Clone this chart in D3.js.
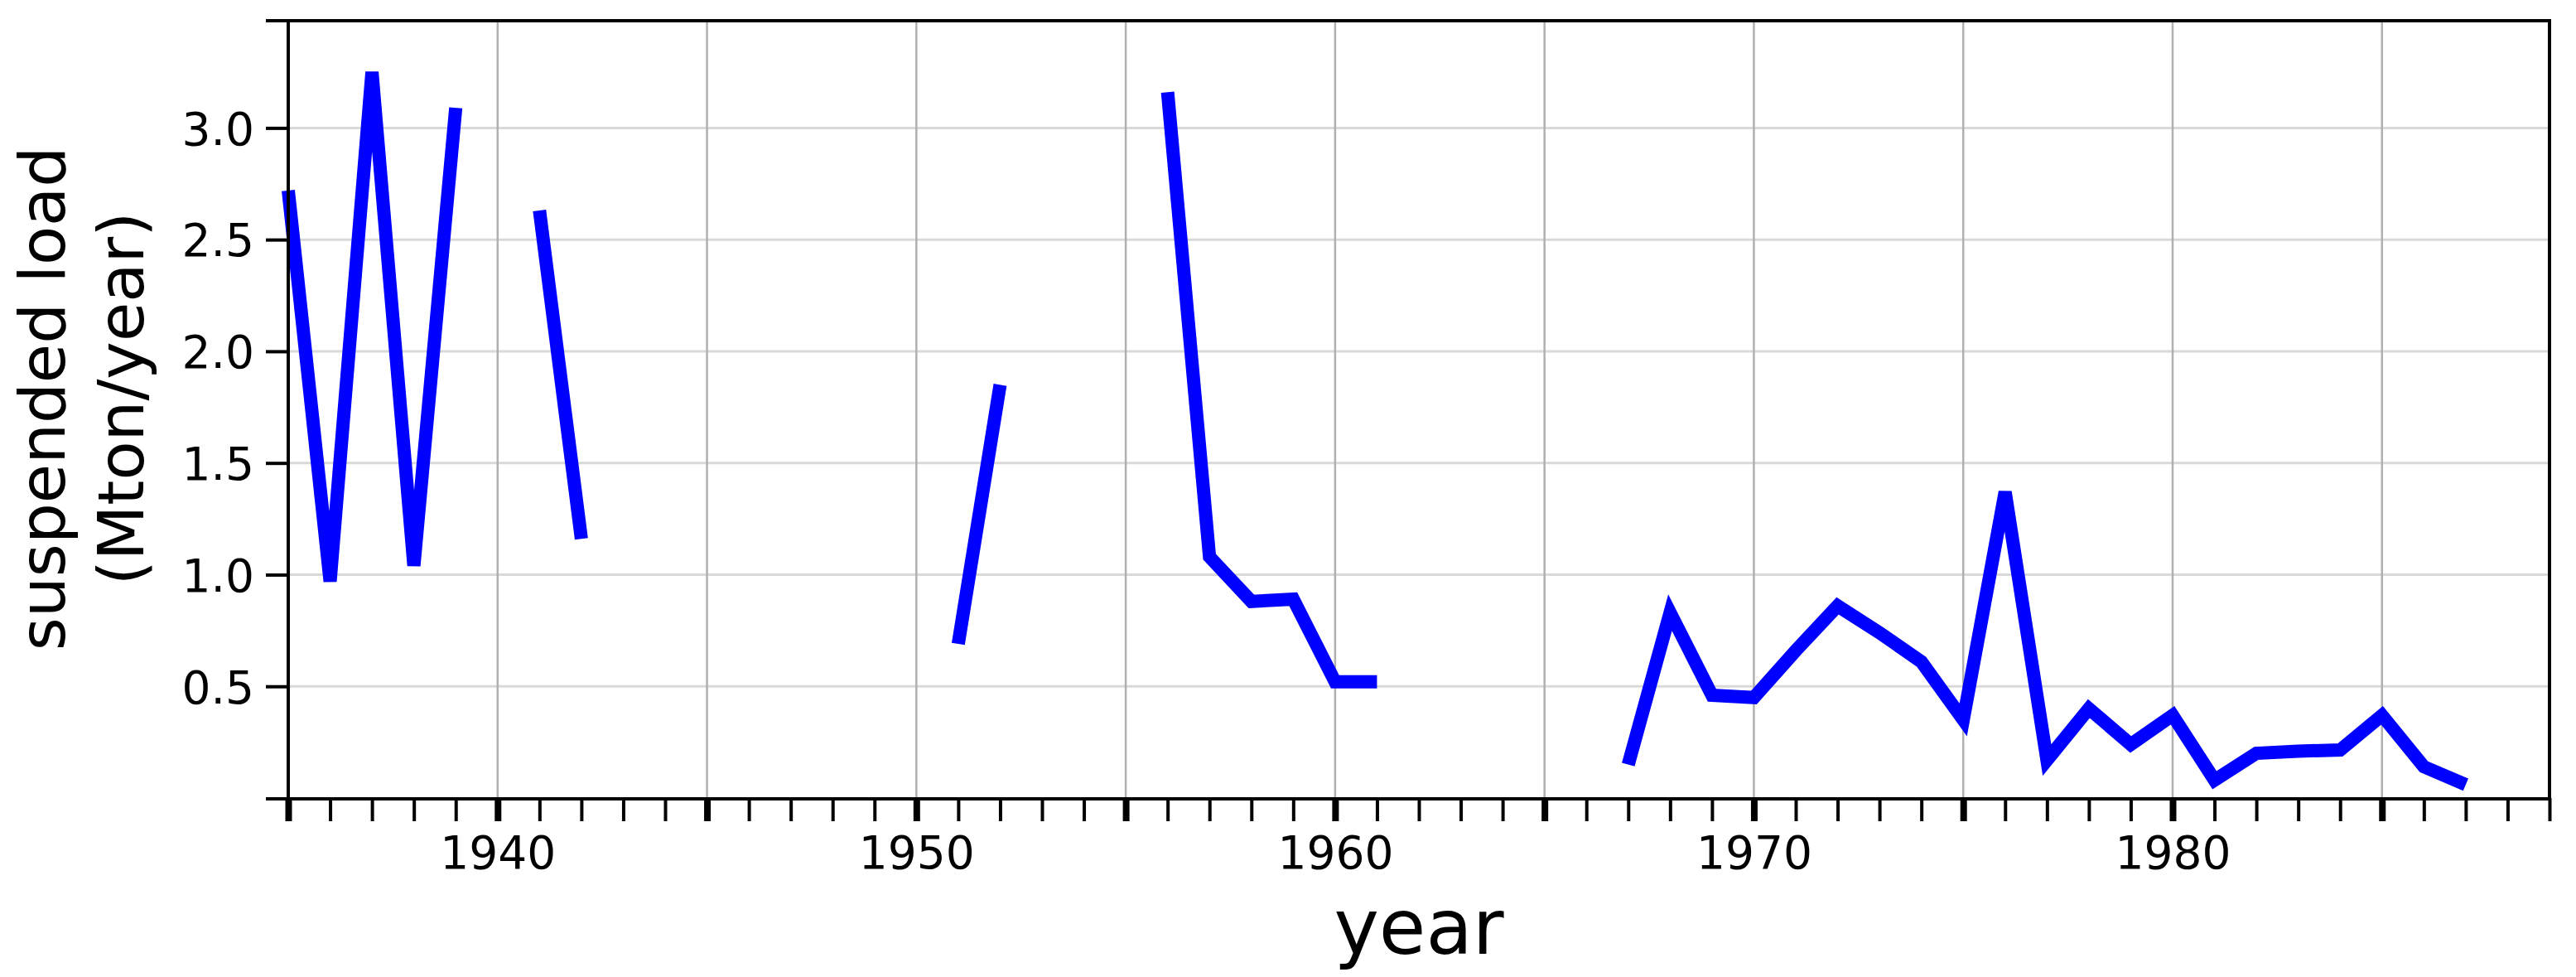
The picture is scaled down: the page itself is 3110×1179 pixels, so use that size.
<!DOCTYPE html>
<html>
<head>
<meta charset="utf-8">
<script src="https://cdn.jsdelivr.net/npm/d3@7"></script>
<style>
    body { margin: 0; background: #fff; }
    text { font-family: "DejaVu Sans", Verdana, sans-serif; fill: #000; }
</style>
</head>
<body>
<div class="graph"></div>
<script>
//Years of the record, one entry per year
const years = [
    1935, 1936, 1937, 1938, 1939, 1940, 1941, 1942, 1943, 1944,
    1945, 1946, 1947, 1948, 1949, 1950, 1951, 1952, 1953, 1954,
    1955, 1956, 1957, 1958, 1959, 1960, 1961, 1962, 1963, 1964,
    1965, 1966, 1967, 1968, 1969, 1970, 1971, 1972, 1973, 1974,
    1975, 1976, 1977, 1978, 1979, 1980, 1981, 1982, 1983, 1984,
    1985, 1986, 1987
];

//Suspended load in Mton/year, null where there is no measurement
const loads = [
    2.72, 0.97, 3.25, 1.04, 3.09, null, 2.63, 1.16, null, null,
    null, null, null, null, null, null, 0.69, 1.85, null, null,
    null, 3.16, 1.08, 0.88, 0.89, 0.52, 0.52, null, null, null,
    null, null, 0.15, 0.83, 0.46, 0.45, 0.66, 0.86, 0.74, 0.61,
    0.35, 1.37, 0.17, 0.40, 0.24, 0.37, 0.08, 0.20, 0.21, 0.215,
    0.37, 0.14, 0.06
];

//Ticks
const yTicks = [0.5, 1.0, 1.5, 2.0, 2.5, 3.0];
const xMinorTicks = d3.range(1935, 1990);
const xMajorTicks = [1935, 1940, 1945, 1950, 1955, 1960, 1965, 1970, 1975, 1980, 1985];
const xLabels = [1940, 1950, 1960, 1970, 1980];

const yLabelLines = ["suspended load", "(Mton/year)"];
const xLabelText = "year";

let WIDTH = 3110,
    HEIGHT = 1179,
    LEFT = 348,
    RIGHT = 3078,
    TOP = 25,
    BOTTOM = 963,
    TICK = 27;

let svg = d3
    .select(".graph")
    .append("svg")
    .attr("width", WIDTH)
    .attr("height", HEIGHT)
    .style("display", "block");

svg.append("rect")
    .attr("width", WIDTH)
    .attr("height", HEIGHT)
    .attr("fill", "#fff");

let xScale = d3.scaleLinear().domain([1935, 1989]).range([LEFT, RIGHT]);
let yScale = d3.scaleLinear().domain([0, 3.48]).range([BOTTOM, TOP]);

//Grid lines
svg.append("g")
    .selectAll("line")
    .data(yTicks)
    .enter()
    .append("line")
    .attr("x1", LEFT)
    .attr("x2", RIGHT)
    .attr("y1", d => yScale(d))
    .attr("y2", d => yScale(d))
    .attr("stroke", "#d9d9d9")
    .attr("stroke-width", 3);

svg.append("g")
    .selectAll("line")
    .data(xMajorTicks.slice(1))
    .enter()
    .append("line")
    .attr("x1", d => xScale(d))
    .attr("x2", d => xScale(d))
    .attr("y1", TOP)
    .attr("y2", BOTTOM)
    .attr("stroke", "#b0b0b0")
    .attr("stroke-width", 2.5);

//Data line, broken where values are missing
let data = years.map((year, i) => ({ year: year, load: loads[i] }));

let line = d3.line()
    .defined(d => d.load !== null)
    .x(d => xScale(d.year))
    .y(d => yScale(d.load));

svg.append("path")
    .datum(data)
    .attr("d", line)
    .attr("fill", "none")
    .attr("stroke", "#0000ff")
    .attr("stroke-width", 16)
    .attr("stroke-linejoin", "miter")
    .attr("stroke-miterlimit", 4);

//x axis: minor ticks every year, thicker ticks every five years
svg.append("g")
    .attr("transform", `translate(0, ${BOTTOM})`)
    .call(d3.axisBottom(xScale).tickValues(xMinorTicks).tickSize(TICK + 1).tickSizeOuter(0).tickFormat(""))
    .call(g => g.select(".domain").remove())
    .call(g => g.selectAll(".tick line")
        .attr("stroke", "#000")
        .attr("stroke-width", d => xMajorTicks.includes(d) ? 8 : 4));

svg.append("g")
    .attr("transform", `translate(0, ${BOTTOM})`)
    .call(d3.axisBottom(xScale).tickValues(xLabels).tickSize(0).tickPadding(46).tickFormat(d3.format("d")))
    .call(g => g.select(".domain").remove())
    .call(g => g.selectAll(".tick text")
        .attr("font-size", 55)
        .attr("font-family", "DejaVu Sans, Verdana, sans-serif")
        .attr("fill", "#000"));

//y axis
svg.append("g")
    .attr("transform", `translate(${LEFT}, 0)`)
    .call(d3.axisLeft(yScale).tickValues(yTicks).tickSize(TICK).tickSizeOuter(0).tickPadding(14).tickFormat(d3.format(".1f")))
    .call(g => g.select(".domain").remove())
    .call(g => g.selectAll(".tick line").attr("stroke", "#000").attr("stroke-width", 4))
    .call(g => g.selectAll(".tick text")
        .attr("font-size", 55)
        .attr("dy", "0.36em")
        .attr("font-family", "DejaVu Sans, Verdana, sans-serif")
        .attr("fill", "#000"));

//Frame
let frame = svg.append("g").attr("stroke", "#000").attr("stroke-width", 4);
frame.append("line").attr("x1", LEFT - TICK).attr("x2", RIGHT + 2).attr("y1", TOP).attr("y2", TOP);
frame.append("line").attr("x1", LEFT - TICK).attr("x2", RIGHT + 2).attr("y1", BOTTOM + 1).attr("y2", BOTTOM + 1);
frame.append("line").attr("x1", LEFT).attr("x2", LEFT).attr("y1", TOP - 2).attr("y2", BOTTOM + 1);
frame.append("line").attr("x1", RIGHT).attr("x2", RIGHT).attr("y1", TOP - 2).attr("y2", BOTTOM + 1);

//Axis labels
svg.append("text")
    .attr("x", (LEFT + RIGHT) / 2)
    .attr("y", 1151)
    .attr("text-anchor", "middle")
    .attr("font-size", 92)
    .text(xLabelText);

svg.append("g")
    .selectAll("text")
    .data(yLabelLines)
    .enter()
    .append("text")
    .attr("transform", (d, i) => `translate(${78 + i * 95}, 481) rotate(-90)`)
    .attr("text-anchor", "middle")
    .attr("font-size", 77)
    .text(d => d);
</script>
</body>
</html>
